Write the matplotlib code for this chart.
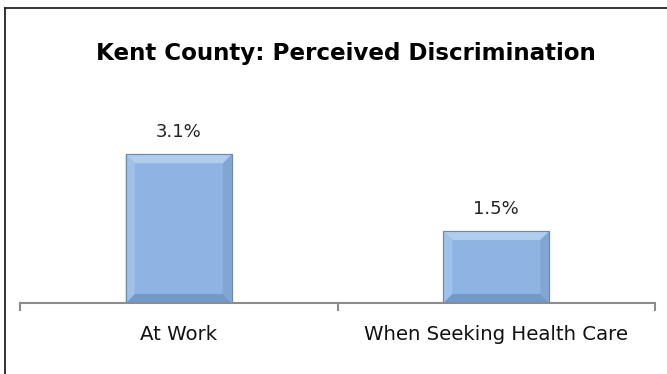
import matplotlib
matplotlib.use("Agg")
import matplotlib.pyplot as plt
from matplotlib.patches import Polygon
from matplotlib.lines import Line2D
import numpy as np

categorias = ["At Work", "When Seeking Health Care"]
valores = [3.1, 1.5]
rotulos = ["3.1%", "1.5%"]
titulo = "Kent County: Perceived Discrimination"

W, H = 667, 374
fig = plt.figure(figsize=(W / 100, H / 100), dpi=100)
fig.patch.set_facecolor("white")

# area do grafico (em pixels da imagem)
x0, x1 = 20, 655
y_base, y_topo = 303, 100
ax = fig.add_axes([x0 / W, (H - y_base) / H, (x1 - x0) / W, (y_base - y_topo) / H])
ax.set_xlim(-0.5, 1.5)
ax.set_ylim(0, 4.23)
ax.axis("off")

pos = np.arange(len(categorias))
barras = ax.bar(pos, valores, width=0.334, color="#8DB4E2", edgecolor="#7B9CC4",
                linewidth=0.8, zorder=2)

# bisel simples nas barras
px_x = 2.0 / (x1 - x0)          # unidades de dados por pixel
px_y = 4.23 / (y_base - y_topo)
b = 9
for r in barras.patches:
    bx, by, bw, bh = r.get_x(), r.get_y(), r.get_width(), r.get_height()
    dx, dy = b * px_x, b * px_y
    ox, oy = [bx, bx + bw, bx + bw, bx], [by, by, by + bh, by + bh]
    ix = [bx + dx, bx + bw - dx, bx + bw - dx, bx + dx]
    iy = [by + dy, by + dy, by + bh - dy, by + bh - dy]
    cores = ["#7399C9", "#82A6D3", "#B0CDEE", "#A0C1E9"]  # baixo, direita, topo, esquerda
    faces = [
        [(ox[0], oy[0]), (ox[1], oy[1]), (ix[1], iy[1]), (ix[0], iy[0])],
        [(ox[1], oy[1]), (ox[2], oy[2]), (ix[2], iy[2]), (ix[1], iy[1])],
        [(ox[2], oy[2]), (ox[3], oy[3]), (ix[3], iy[3]), (ix[2], iy[2])],
        [(ox[3], oy[3]), (ox[0], oy[0]), (ix[0], iy[0]), (ix[3], iy[3])],
    ]
    for f, c in zip(faces, cores):
        ax.add_patch(Polygon(f, closed=True, facecolor=c, edgecolor="none", zorder=3))
    ax.add_patch(plt.Rectangle((bx, by), bw, bh, fill=False, edgecolor="#6A88B0",
                               linewidth=0.8, zorder=4))

for p, v, t in zip(pos, valores, rotulos):
    ax.annotate(t, (p, v), xytext=(0, 16), textcoords="offset points",
                ha="center", va="center", fontsize=13, color="#222222",
                family="DejaVu Sans")

# eixo x com marcas entre categorias
ax.plot([-0.5, 1.5], [0, 0], color="#8C8C8C", linewidth=1.5, zorder=5,
        clip_on=False, solid_capstyle="butt")
for xt in [-0.5, 0.5, 1.5]:
    ax.plot([xt, xt], [0, -7 * px_y], color="#8C8C8C", linewidth=1.5,
            clip_on=False, zorder=5)
for p, c in zip(pos, categorias):
    ax.text(p, -37 * px_y, c, ha="center", va="baseline", fontsize=14.2,
            color="#111111", family="DejaVu Sans")

fig.text(346 / W, 1 - 60 / H, titulo, ha="center", va="baseline", fontsize=16.6,
         fontweight="bold", family="DejaVu Sans", color="black")

# moldura do grafico (cortada a direita e embaixo)
fig.add_artist(Line2D([5 / W, 5 / W], [0, 1 - 8 / H], color="#222222", linewidth=1.3))
fig.add_artist(Line2D([5 / W, 1], [1 - 8 / H, 1 - 8 / H], color="#222222", linewidth=1.3))

fig.savefig("out.png", dpi=100, facecolor="white")
